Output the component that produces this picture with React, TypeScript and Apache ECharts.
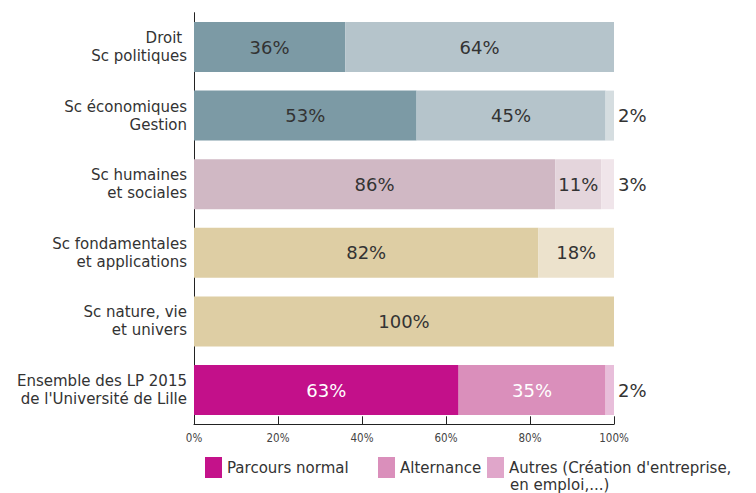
import React, { useEffect, useRef } from "react";
import * as echarts from "echarts";

const categories = [
  "Droit \nSc politiques",
  "Sc économiques\nGestion",
  "Sc humaines\net sociales",
  "Sc fondamentales\net applications",
  "Sc nature, vie\net univers",
  "Ensemble des LP 2015\nde l'Université de Lille",
];
const seriesNames = [
  "Parcours normal",
  "Alternance",
  "Autres (Création d'entreprise,\nen emploi,...)",
];
const parcoursNormal = [36, 53, 86, 82, 100, 63];
const alternance = [64, 45, 11, 18, 0, 35];
const autres = [0, 2, 3, 0, 0, 2];
const xTicks = [0, 20, 40, 60, 80, 100];

// styling (per category palette: normal / alternance / autres)
const rowColors = [
  ["#7C9AA5", "#B5C4CB", "#D5DDE0"],
  ["#7C9AA5", "#B5C4CB", "#D5DDE0"],
  ["#D0B8C4", "#E4D5DC", "#F0E5EA"],
  ["#DECEA4", "#ECE2CC", "#F3EDDF"],
  ["#DECEA4", "#ECE2CC", "#F3EDDF"],
  ["#C3108A", "#DA8FBB", "#E8BEDA"],
];
const legendColors = ["#C4128A", "#DA8FBB", "#E0A6CA"];
const whiteLabelRows = [5];
const FONT = "'DejaVu Sans', sans-serif";
const NARROW = "'DejaVu Sans Condensed', 'Liberation Sans Narrow', sans-serif";

export default function App() {
  const ref = useRef<HTMLDivElement>(null);
  useEffect(() => {
    document.body.style.margin = "0";
    if (!ref.current) return;
    const chart = echarts.init(ref.current, undefined, { renderer: "svg" });
    const all = [parcoursNormal, alternance, autres];
    const series = all.map((vals, si) => ({
      name: seriesNames[si],
      type: "bar",
      stack: "total",
      barWidth: 50,
      itemStyle: { color: legendColors[si] },
      label: {
        show: true,
        position: si === 2 ? "right" : "inside",
        distance: 4,
        formatter: (p: any) => p.value + "%",
        fontFamily: FONT,
        fontSize: 18,
        color: "#333",
      },
      data: vals.map((v, ci) => ({
        value: v,
        itemStyle: { color: rowColors[ci][si] },
        label: {
          show: v > 0,
          color: si < 2 && whiteLabelRows.includes(ci) ? "#fff" : "#333",
        },
      })),
    }));
    const legendBase = {
      orient: "horizontal",
      padding: 0,
      itemWidth: 17,
      itemHeight: 21,
      itemGap: 5,
      icon: "rect",
      textStyle: { fontFamily: FONT, fontSize: 15, color: "#333" },
      selectedMode: false,
    };
    const lines2 = seriesNames[2].split("\n");
    chart.setOption({
      animation: false,
      grid: { left: 194, right: 142, top: 12.7, bottom: 68.7, containLabel: false },
      xAxis: {
        type: "value",
        min: 0,
        max: 100,
        interval: 20,
        axisLine: { show: true, lineStyle: { color: "#222", width: 1 } },
        axisTick: { show: true, inside: true, length: 8, lineStyle: { color: "#222" } },
        splitLine: { show: false },
        axisLabel: {
          formatter: (v: number) => (xTicks.includes(v) ? v + "%" : ""),
          fontFamily: NARROW,
          fontSize: 11.5,
          color: "#444",
          margin: 8,
        },
      },
      yAxis: {
        type: "category",
        inverse: true,
        data: categories,
        axisLine: { show: true, lineStyle: { color: "#222", width: 1 } },
        axisTick: { show: false },
        axisLabel: {
          fontFamily: FONT,
          fontSize: 15,
          color: "#333",
          lineHeight: 18,
          margin: 7,
          align: "right",
        },
      },
      legend: [
        { ...legendBase, data: [seriesNames[0]], left: 205, top: 457 },
        { ...legendBase, data: [seriesNames[1]], left: 378, top: 457 },
        {
          ...legendBase,
          data: [seriesNames[2]],
          left: 487,
          top: 457,
          formatter: () => lines2[0],
        },
      ],
      graphic: [
        {
          type: "text",
          left: 510,
          top: 477,
          style: {
            text: lines2[1],
            fontFamily: FONT,
            fontSize: 15,
            fill: "#333",
          },
        },
      ],
      series,
    });
    return () => chart.dispose();
  }, []);
  return <div ref={ref} style={{ width: 756, height: 493 }} />;
}
